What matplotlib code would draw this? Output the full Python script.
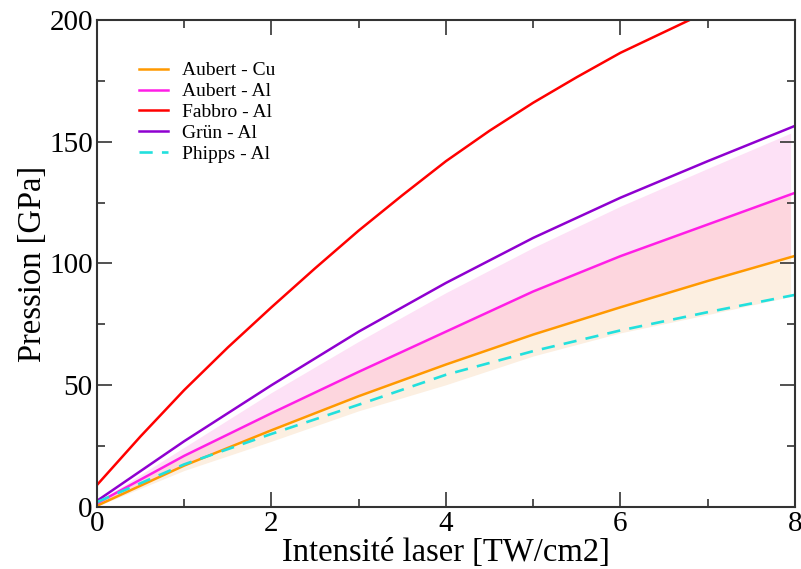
import matplotlib.pyplot as plt
import numpy as np

# intensite laser [TW/cm2]
x = [0, 1, 2, 3, 4, 5, 6, 7, 8]
x_fabbro = [0, 0.5, 1, 1.5, 2, 2.5, 3, 3.5, 4, 4.5, 5, 5.5, 6, 6.5, 7]
x_band = [0, 1, 2, 3, 4, 5, 6, 7, 7.95]

# pressions [GPa]
aubert_cu = [0.5, 17, 31.5, 45.5, 58.5, 70.8, 82, 92.8, 103.1]
aubert_al = [1.5, 21, 38.5, 55.5, 72, 88.5, 103, 116, 129]
fabbro_al = [9, 29, 48, 65.5, 82, 98, 113.5, 128, 142, 154.5, 166, 176.5, 186.5, 195, 203.5]
grun_al = [2.5, 27, 50, 72, 92, 110.5, 127, 142, 156.5]
phipps_al = [2, 17.5, 30, 42, 54.3, 64, 72.5, 80, 87.1]

# bornes des zones ombrees
band_top = [2, 24.5, 47, 68, 88, 106.5, 123.5, 139, 153.5]
band_al = [1.5, 21, 38.5, 55.5, 72, 88.5, 103, 116, 128.8]
band_cu = [0.5, 17, 31.5, 45.5, 58.5, 70.8, 82, 92.8, 103]
band_low = [0.3, 15, 27, 39.5, 50.2, 62, 71.5, 79, 86.4]

plt.rcParams['font.family'] = ['Liberation Serif', 'DejaVu Serif']

fig = plt.figure(figsize=(8.01, 5.69), dpi=100)
ax = fig.add_axes([0.121, 0.109, 0.8715, 0.856])

ax.fill_between(x_band, band_al, band_top, color='#fde1f6', lw=0)
ax.fill_between(x_band, band_cu, band_al, color='#fdd6de', lw=0)
ax.fill_between(x_band, band_low, band_cu, color='#fcefe1', lw=0)

ax.plot(x, aubert_cu, color='#ff9900', lw=1.8, label='Aubert - Cu')
ax.plot(x, aubert_al, color='#ff1ee6', lw=1.8, label='Aubert - Al')
ax.plot(x_fabbro, fabbro_al, color='#ff0000', lw=1.8, label='Fabbro - Al')
ax.plot(x, grun_al, color='#8f00d0', lw=1.8, label='Grün - Al')
ax.plot(x, phipps_al, color='#22e0dd', lw=1.9, ls=(0, (5, 3.5)), label='Phipps - Al')

ax.set_xlim(0, 8)
ax.set_ylim(0, 200)
ax.set_xticks([0, 2, 4, 6, 8])
ax.set_xticks([1, 3, 5, 7], minor=True)
ax.set_yticks([0, 50, 100, 150, 200])
ax.set_yticks([25, 75, 125, 175], minor=True)
ax.tick_params(which='both', direction='in', top=True, right=True,
               labelsize=21, width=1.2, color='#333333')
ax.tick_params(which='major', length=11, pad=3)
ax.tick_params(which='minor', length=6)
for s in ax.spines.values():
    s.set_linewidth(1.5)
    s.set_color('#333333')

ax.set_xlabel('Intensité laser [TW/cm2]', fontsize=23.5, labelpad=0)
ax.set_ylabel('Pression [GPa]', fontsize=23.5, labelpad=1)

ax.legend(frameon=False, loc='upper left', bbox_to_anchor=(0.06, 0.914),
          fontsize=14, handlelength=1.5, handletextpad=0.72,
          labelspacing=0.17, borderpad=0, borderaxespad=0)

fig.savefig('out.png', dpi=100)
